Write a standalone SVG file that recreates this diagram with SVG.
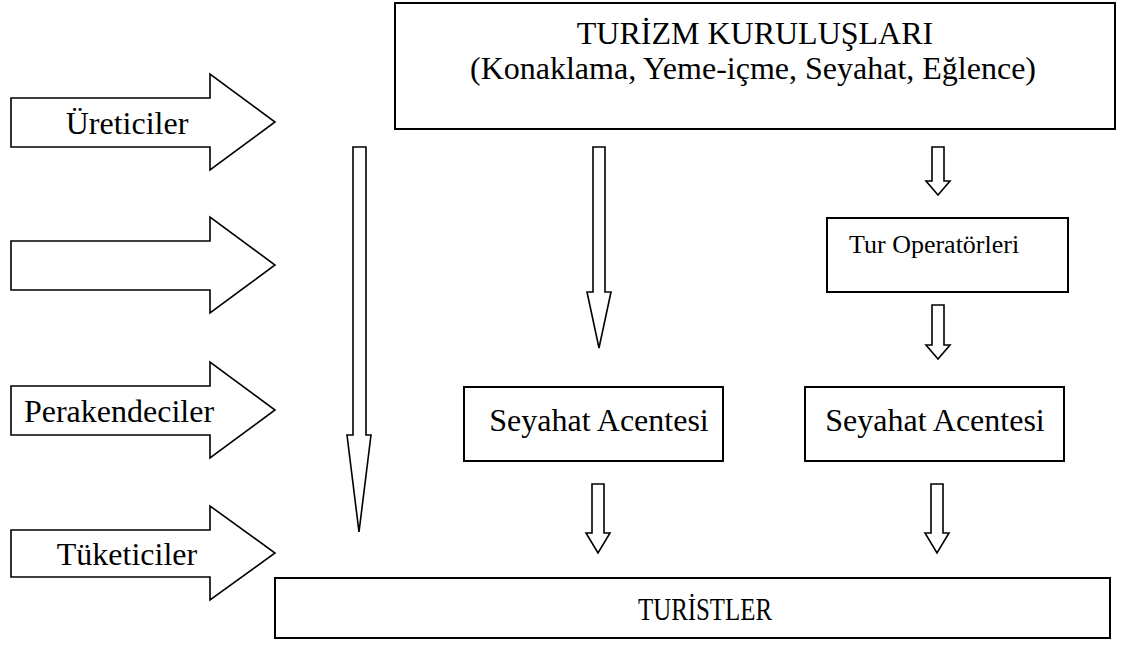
<svg xmlns="http://www.w3.org/2000/svg" width="1130" height="652" viewBox="0 0 1130 652">
  <style>
    .box { fill: #ffffff; stroke: #000000; stroke-width: 2; }
    .arrow { fill: #ffffff; stroke: #000000; stroke-width: 1.6; stroke-linejoin: miter; }
    .lbl { font-family: "Liberation Serif", "Times New Roman", serif; font-size: 32px; fill: #000000; }
    .small { font-size: 26px; }
    .mid { text-anchor: middle; }
  </style>
  <rect width="1130" height="652" fill="#ffffff"/>

  <!-- left-hand block arrows with the channel members -->
  <g id="uretici">
    <polygon class="arrow" points="11,98 210,98 210,74 275,122 210,170 210,147 11,147"/>
    <text class="lbl mid" x="127" y="134">Üreticiler</text>
  </g>
  <g id="bos-ok">
    <polygon class="arrow" points="11,241 210,241 210,217 275,265 210,313 210,290 11,290"/>
  </g>
  <g id="perakendeci">
    <polygon class="arrow" points="11,386 210,386 210,362 275,410 210,458 210,435 11,435"/>
    <text class="lbl mid" x="119" y="422">Perakendeciler</text>
  </g>
  <g id="tuketici">
    <polygon class="arrow" points="11,530 210,530 210,506 275,553 210,600 210,577 11,577"/>
    <text class="lbl mid" x="127" y="565">Tüketiciler</text>
  </g>

  <!-- boxes -->
  <g id="turizm-kuruluslari">
    <rect class="box" x="395" y="3" width="720" height="126"/>
    <text class="lbl mid" x="755" y="44">TURİZM KURULUŞLARI</text>
    <text class="lbl mid" x="753" y="79">(Konaklama, Yeme-içme, Seyahat, Eğlence)</text>
  </g>
  <g id="tur-operatorleri">
    <rect class="box" x="827" y="218" width="241" height="74"/>
    <text class="lbl small" x="849" y="253">Tur Operatörleri</text>
  </g>
  <g id="seyahat-acentesi-1">
    <rect class="box" x="464" y="387" width="259" height="74"/>
    <text class="lbl mid" x="599" y="431">Seyahat Acentesi</text>
  </g>
  <g id="seyahat-acentesi-2">
    <rect class="box" x="805" y="387" width="259" height="74"/>
    <text class="lbl mid" x="935" y="431">Seyahat Acentesi</text>
  </g>
  <g id="turistler">
    <rect class="box" x="275" y="578" width="835" height="60"/>
    <text class="lbl mid" x="705" y="620" textLength="134" lengthAdjust="spacingAndGlyphs">TURİSTLER</text>
  </g>

  <!-- downward block arrows -->
  <g id="connectors">
    <polygon class="arrow" points="353,147 366,147 366,435 371,435 359,532 347,435 353,435"/>
    <polygon class="arrow" points="593,147 605,147 605,292 611,292 599,348 587,292 593,292"/>
    <polygon class="arrow" points="932,147 944,147 944,181 950,181 938,195 926,181 932,181"/>
    <polygon class="arrow" points="932,305 944,305 944,345 950,345 938,359 926,345 932,345"/>
    <polygon class="arrow" points="592,484 604,484 604,533 610,533 598,553 586,533 592,533"/>
    <polygon class="arrow" points="931,484 943,484 943,533 949,533 937,553 925,533 931,533"/>
  </g>
</svg>
